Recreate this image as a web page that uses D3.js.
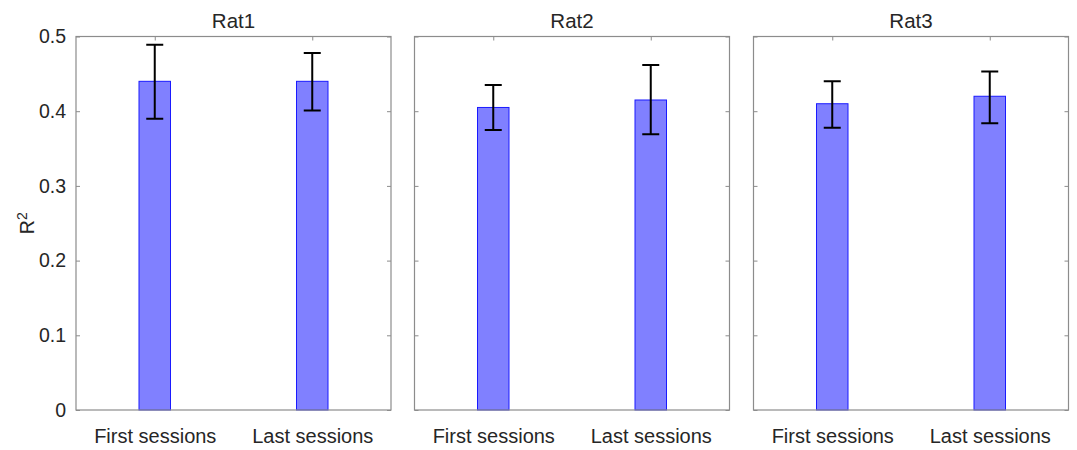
<!DOCTYPE html>
<meta charset="utf-8"/>
<title>R2 per rat</title>
<style>
    body { margin: 0; background: #fff; }
    text { font-family: "Liberation Sans", Arial, sans-serif; fill: #262626; }
    .box { fill: none; stroke: #8c8c8c; stroke-width: 1.2px; }
    .axis path { display: none; }
    .axis line { stroke: #8c8c8c; stroke-width: 1px; }
    .axis text { font-size: 19.5px; fill: #262626; }
    .bar { fill: #8080ff; stroke: #1a1aff; stroke-width: 1px; }
    .err { stroke: #000; stroke-width: 2px; fill: none; }
</style>
<script src="https://cdn.jsdelivr.net/npm/d3@7"></script>
<svg id="chart" width="1077" height="450"></svg>
<script>
"use strict";

// data
const rats = ["Rat1", "Rat2", "Rat3"];
const sessions = ["First sessions", "Last sessions"];
const means = [
    [0.440, 0.440],
    [0.405, 0.415],
    [0.410, 0.420]
];
const errLow = [
    [0.390, 0.401],
    [0.375, 0.369],
    [0.378, 0.384]
];
const errHigh = [
    [0.489, 0.478],
    [0.435, 0.462],
    [0.440, 0.453]
];
const yTicks = [0, 0.1, 0.2, 0.3, 0.4, 0.5];

const panelLeft = [76, 414.5, 753.5];
const panelWidth = 315;
const plotTop = 36.5, plotBottom = 410;

const svg = d3.select("#chart");

const y = d3.scaleLinear().domain([0, 0.5]).range([plotBottom, plotTop]);

rats.forEach(function (rat, i)
{
    const x = d3.scaleLinear().domain([0.5, 2.5])
        .range([panelLeft[i], panelLeft[i] + panelWidth]);
    const g = svg.append("g");
    const barW = x(1.1) - x(0.9);
    const capW = 17;

    // bars
    g.selectAll("rect.bar")
        .data(means[i])
        .enter()
        .append("rect")
        .attr("class", "bar")
        .attr("x", function (d, j) { return x(j + 1) - barW / 2; })
        .attr("y", function (d) { return y(d); })
        .attr("width", barW)
        .attr("height", function (d) { return y(0) - y(d); });

    // error bars
    const eb = g.selectAll("g.eb")
        .data(means[i].map(function (m, j) { return {j: j, lo: errLow[i][j], hi: errHigh[i][j]}; }))
        .enter()
        .append("g");
    eb.append("path")
        .attr("class", "err")
        .attr("d", function (d)
        {
            const cx = x(d.j + 1);
            return "M" + (cx - capW / 2) + "," + y(d.hi) + "H" + (cx + capW / 2)
                + "M" + cx + "," + y(d.hi) + "V" + y(d.lo)
                + "M" + (cx - capW / 2) + "," + y(d.lo) + "H" + (cx + capW / 2);
        });

    // axes (ticks inside, matlab style)
    const left = g.append("g")
        .attr("class", "axis")
        .attr("transform", "translate(" + panelLeft[i] + ",0)")
        .call(d3.axisLeft(y).tickValues(yTicks).tickSizeInner(-4).tickSizeOuter(0)
            .tickPadding(10).tickFormat(d3.format("")));
    if (i > 0) left.selectAll("text").remove();

    g.append("g")
        .attr("class", "axis")
        .attr("transform", "translate(" + (panelLeft[i] + panelWidth) + ",0)")
        .call(d3.axisRight(y).tickValues(yTicks).tickSizeInner(-4).tickSizeOuter(0))
        .selectAll("text").remove();

    g.append("g")
        .attr("class", "axis")
        .attr("transform", "translate(0," + plotTop + ")")
        .call(d3.axisTop(x).tickValues([1, 2]).tickSizeInner(-4).tickSizeOuter(0))
        .selectAll("text").remove();

    g.append("g")
        .attr("class", "axis")
        .attr("transform", "translate(0," + plotBottom + ")")
        .call(d3.axisBottom(x).tickValues([1, 2]).tickSizeInner(0).tickSizeOuter(0)
            .tickPadding(19).tickFormat(function (d) { return sessions[d - 1]; }))
        .selectAll("text").style("font-size", "20px");

    // box
    g.append("rect")
        .attr("class", "box")
        .attr("x", panelLeft[i])
        .attr("y", plotTop)
        .attr("width", panelWidth)
        .attr("height", plotBottom - plotTop);

    // title
    g.append("text")
        .attr("x", panelLeft[i] + panelWidth / 2)
        .attr("y", 28)
        .attr("text-anchor", "middle")
        .style("font-size", "20.5px")
        .text(rat);
});

// y label
const yl = svg.append("text")
    .attr("transform", "translate(34," + ((plotTop + plotBottom) / 2) + ") rotate(-90)")
    .attr("text-anchor", "middle")
    .style("font-size", "19.5px");
yl.append("tspan").text("R");
yl.append("tspan").attr("dy", "-0.5em").style("font-size", "14px").text("2");
</script>
